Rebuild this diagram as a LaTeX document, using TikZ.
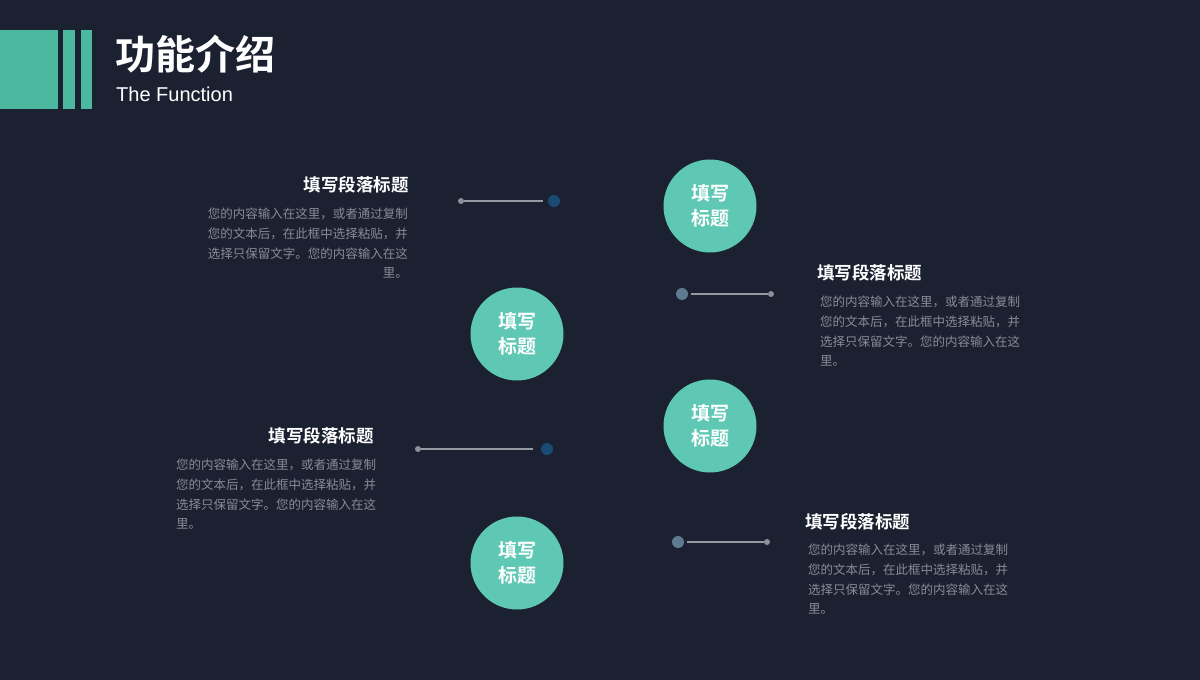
\documentclass[tikz,border=0pt]{standalone}
\usepackage{fontspec}
\setmainfont{Noto Sans CJK SC}[BoldFont={Noto Sans CJK SC Bold}]
\newfontfamily\latinfont{Liberation Sans}
\usetikzlibrary{positioning}

\definecolor{bgnavy}{RGB}{27,33,49}
\definecolor{mint}{RGB}{94,200,180}
\definecolor{barmint}{RGB}{77,184,160}
\definecolor{deepblue}{RGB}{25,75,115}
\definecolor{slate}{RGB}{95,122,145}
\definecolor{linegrey}{RGB}{150,155,162}
\definecolor{bodygrey}{RGB}{135,140,150}

\newcommand{\paralines}[1]{您的内容输入在这里，或者通过复制\\您的文本后，在此框中选择粘贴，并\\选择只保留文字。您的内容输入在这\\#1里。}

\tikzset{
  titledot/.style={circle, fill=mint, minimum size=93pt, inner sep=0pt, text=white,
    font=\bfseries\fontsize{19}{25}\selectfont, align=center},
  leaddot/.style={circle, minimum size=12pt, inner sep=0pt},
  enddot/.style={circle, fill=linegrey!110, minimum size=6pt, inner sep=0pt},
  link/.style={draw=linegrey, line width=1.6pt},
  headtext/.style={text=white, inner sep=0pt, font=\bfseries\fontsize{17.5}{20}\selectfont},
  bodytext/.style={text=bodygrey, inner sep=0pt, font=\fontsize{12.5}{19.7}\selectfont}
}

\begin{document}
\begin{tikzpicture}[x=1pt, y=-1pt]
  % Background
  \fill[bgnavy] (0,0) rectangle (1200,680);
  \useasboundingbox (0,0) rectangle (1200,680);

  % Title bars
  \fill[barmint] (0,30) rectangle (58,109);
  \fill[barmint] (63,30) rectangle (75,109);
  \fill[barmint] (81,30) rectangle (92,109);
  \node[anchor=west, inner sep=0pt, text=white, font=\bfseries\fontsize{40}{41}\selectfont] (title) at (115,54) {功能介绍};
  \node[anchor=west, inner sep=0pt, text=white, font=\latinfont\fontsize{20}{22}\selectfont] (subtitle) at (116,94) {The Function};

  % Circles
  \foreach \cx/\cy/\nm in {710/206/c1, 517/334/c2, 710/426/c3, 517/563/c4} {
    \node[titledot] (\nm) at (\cx,\cy) {填写\\标题};
  }

  % Connectors
  \node[enddot] (s1) at (461,201) {};
  \node[leaddot, fill=deepblue] (d1) at (554,201) {};
  \draw[link, shorten >=5pt] (s1) -- (d1);

  \node[leaddot, fill=slate] (d2) at (682,294) {};
  \node[enddot] (s2) at (771,294) {};
  \draw[link, shorten <=3pt] (d2) -- (s2);

  \node[enddot] (s3) at (418,449) {};
  \node[leaddot, fill=deepblue] (d3) at (547,449) {};
  \draw[link, shorten >=8pt] (s3) -- (d3);

  \node[leaddot, fill=slate] (d4) at (678,542) {};
  \node[enddot] (s4) at (767,542) {};
  \draw[link, shorten <=3pt] (d4) -- (s4);

  % Text blocks
  \node[headtext, anchor=east] (h1) at (409,185) {填写段落标题};
  \node[bodytext, anchor=north east, align=right] (p1) at (408,208) {\paralines{}};

  \node[headtext, anchor=west] (h2) at (817,273) {填写段落标题};
  \node[bodytext, anchor=north west, align=left] (p2) at (820,296) {\paralines{}};

  \node[headtext, anchor=east] (h3) at (374,436) {填写段落标题};
  \node[bodytext, anchor=north west, align=left] (p3) at (176,459) {\paralines{}};

  \node[headtext, anchor=west] (h4) at (805,522) {填写段落标题};
  \node[bodytext, anchor=north west, align=left] (p4) at (808,544) {\paralines{}};
\end{tikzpicture}
\end{document}
